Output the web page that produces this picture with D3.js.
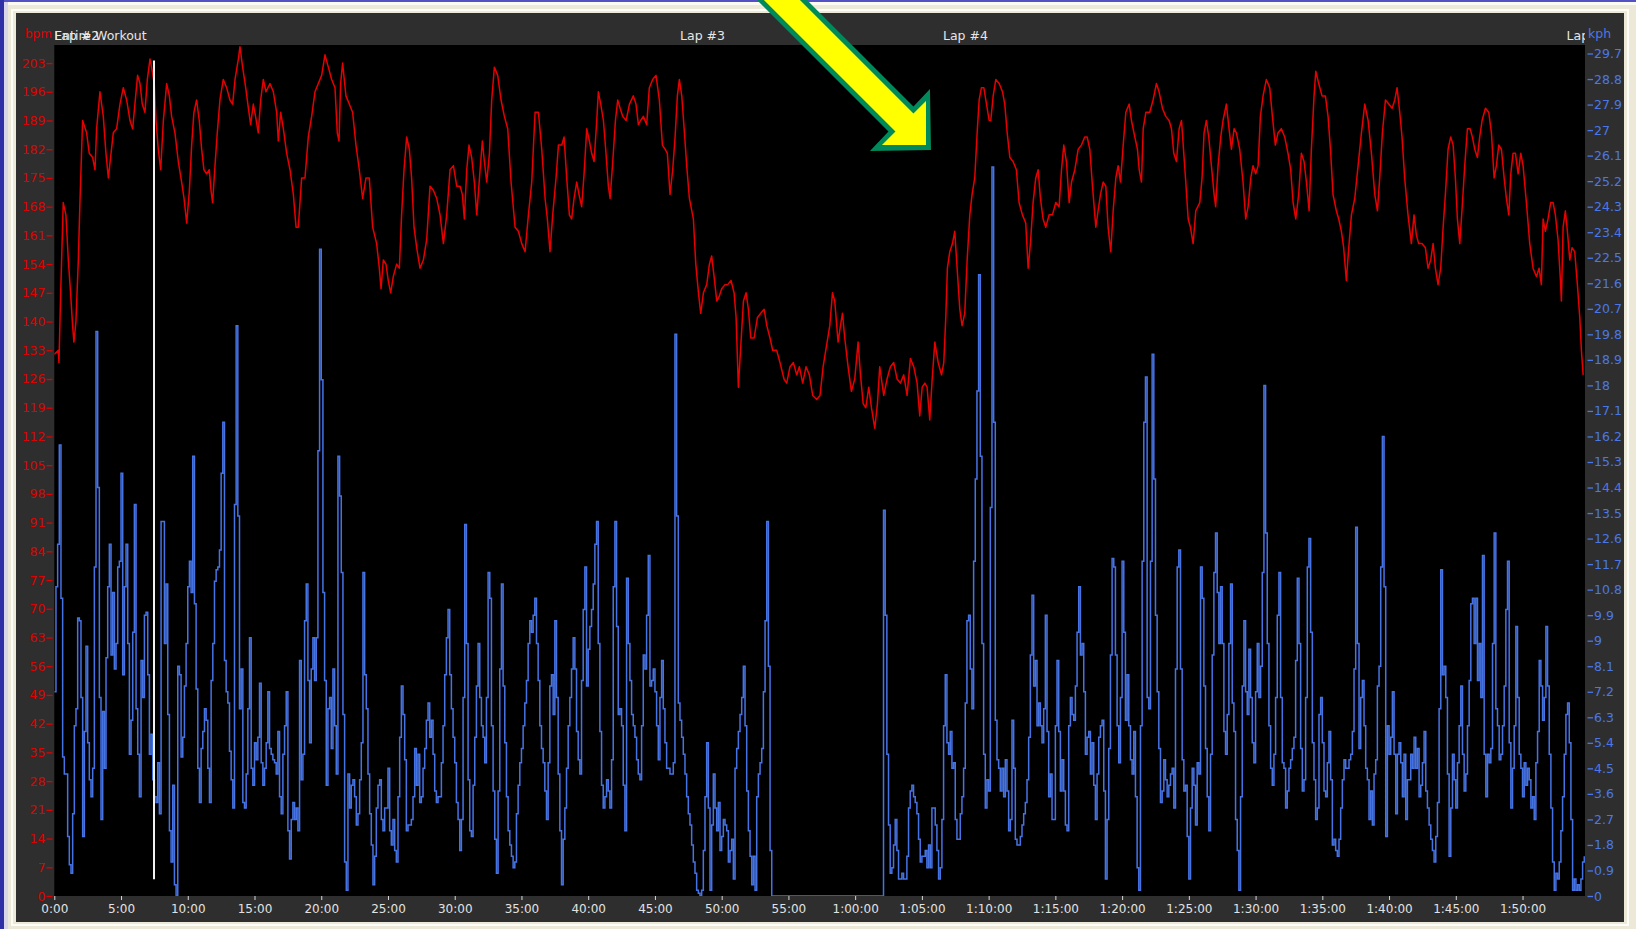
<!DOCTYPE html>
<html><head><meta charset="utf-8">
<script src="https://cdn.jsdelivr.net/npm/d3@7/dist/d3.min.js"></script>
<style>html,body{margin:0;padding:0;background:#ece9d8;overflow:hidden}</style>
</head><body>
<svg id="chart" width="1636" height="929"></svg>
<script>
// ---------- DATA ----------
// Heart rate: [minutes, bpm]
const hrData = [
[0,132],[0.3,133],[0.35,130],[0.47,146],[0.67,169],[0.87,166],[1.05,155],[1.22,147],[1.37,139],[1.47,135],[1.62,140],[1.8,155],[1.92,169],[2.12,189],[2.42,186],[2.62,181],[2.87,180],[3.05,177],[3.17,187],[3.42,196],[3.67,190],[3.87,181],[4.05,175],[4.25,181],[4.42,186],[4.67,187],[4.92,193],[5.17,197],[5.42,194],[5.67,189],[5.87,187],[6.04,193],[6.24,200],[6.42,198],[6.59,193],[6.79,191],[6.97,199],[7.17,204],[7.34,201],[7.49,198],[7.62,189],[7.79,182],[7.97,177],[8.17,189],[8.42,198],[8.62,195],[8.79,190],[9.04,186],[9.29,179],[9.54,174],[9.72,170],[9.92,164],[10.12,172],[10.29,183],[10.46,191],[10.66,194],[10.86,189],[11.04,182],[11.21,177],[11.41,176],[11.61,177],[11.74,172],[11.86,169],[12.04,178],[12.21,186],[12.41,194],[12.66,199],[12.91,197],[13.16,194],[13.36,193],[13.54,199],[13.79,204],[13.91,207],[14.11,202],[14.34,197],[14.54,192],[14.71,188],[14.91,193],[15.08,190],[15.28,186],[15.46,194],[15.66,199],[15.86,196],[16.16,198],[16.41,196],[16.66,191],[16.78,184],[16.96,191],[17.16,187],[17.41,181],[17.66,177],[17.91,171],[18.11,163],[18.28,163],[18.53,175],[18.78,175],[19.03,185],[19.28,190],[19.53,196],[19.78,198],[20.03,200],[20.28,205],[20.53,202],[20.78,199],[21.03,197],[21.2,186],[21.33,184],[21.45,198],[21.6,203],[21.85,195],[22.1,193],[22.35,191],[22.6,183],[22.85,177],[23.1,170],[23.35,175],[23.6,175],[23.85,163],[24.15,159],[24.35,153],[24.48,148],[24.65,155],[24.85,154],[25.02,150],[25.2,147],[25.4,151],[25.65,154],[25.85,153],[26.02,166],[26.2,177],[26.4,185],[26.6,182],[26.77,175],[26.95,163],[27.15,158],[27.4,153],[27.65,155],[27.9,160],[28.15,173],[28.4,172],[28.65,170],[28.9,166],
[29.15,159],[29.4,166],[29.65,177],[29.9,178],[30.15,173],[30.4,173],[30.57,171],[30.72,165],[30.9,177],[31.07,183],[31.27,180],[31.47,174],[31.65,166],[31.9,177],[32.07,184],[32.22,179],[32.4,174],[32.6,181],[32.77,194],[32.97,202],[33.22,200],[33.47,194],[33.72,190],[33.97,187],[34.22,174],[34.52,163],[34.77,162],[35.02,159],[35.27,157],[35.52,166],[35.77,174],[36.02,191],[36.27,191],[36.52,182],[36.77,170],[36.94,165],[37.14,157],[37.34,166],[37.59,175],[37.77,183],[38.02,183],[38.19,185],[38.39,175],[38.59,166],[38.76,165],[38.94,170],[39.14,174],[39.31,171],[39.51,168],[39.69,176],[39.89,187],[40.09,184],[40.26,181],[40.44,179],[40.64,189],[40.76,196],[40.94,193],[41.14,189],[41.31,182],[41.51,173],[41.64,170],[41.84,179],[42.04,189],[42.21,194],[42.39,192],[42.59,190],[42.84,189],[43.09,193],[43.38,195],[43.58,193],[43.76,188],[43.93,189],[44.13,190],[44.38,188],[44.58,197],[44.83,199],[45.08,200],[45.33,194],[45.56,183],[45.76,182],[45.93,181],[46.13,171],[46.33,177],[46.51,185],[46.68,195],[46.83,199],[47.01,195],[47.21,186],[47.38,178],[47.58,170],[47.88,165],[48.06,154],[48.26,147],[48.43,142],[48.63,147],[48.88,149],[49.08,154],[49.25,156],[49.43,151],[49.63,145],[49.8,146],[50,148],[50.25,149],[50.45,149],[50.7,150],[50.93,147],[51.08,141],[51.25,124],[51.43,134],[51.63,145],[51.83,147],[52,143],[52.18,136],[52.43,136],[52.68,141],[52.93,142],[53.18,143],[53.38,139],[53.62,136],[53.82,133],[54.12,133],[54.37,130],[54.67,126],[54.87,125],[55.12,129],[55.37,130],[55.62,127],[55.82,129],[56.07,125],[56.32,129],[56.57,127],[56.82,122],[57.12,121],[57.37,122],
[57.6,129],[57.85,134],[58.1,139],[58.3,147],[58.47,145],[58.72,135],[58.9,139],[59.05,142],[59.22,136],[59.47,129],[59.72,123],[59.97,126],[60.22,135],[60.4,127],[60.6,120],[60.8,119],[61.02,124],[61.22,119],[61.47,114],[61.67,120],[61.84,129],[62.14,122],[62.39,126],[62.64,129],[62.89,130],[63.14,126],[63.39,125],[63.64,127],[63.89,122],[64.14,131],[64.39,129],[64.64,125],[64.84,117],[65.02,124],[65.22,125],[65.39,124],[65.59,116],[65.77,126],[65.97,135],[66.22,130],[66.47,127],[66.64,130],[66.79,141],[66.91,153],[67.09,157],[67.29,159],[67.46,162],[67.64,153],[67.84,143],[68.01,139],[68.21,142],[68.39,155],[68.59,166],[68.76,171],[68.96,175],[69.14,186],[69.29,194],[69.46,197],[69.64,197],[69.84,193],[70.04,189],[70.16,189],[70.34,195],[70.54,199],[70.79,198],[71.04,196],[71.21,193],[71.39,186],[71.59,180],[71.83,179],[72.08,177],[72.28,169],[72.53,166],[72.78,164],[72.96,153],[73.13,159],[73.33,169],[73.53,175],[73.71,177],[73.88,170],[74.08,165],[74.28,163],[74.53,166],[74.78,166],[75.03,169],[75.28,168],[75.46,177],[75.63,183],[75.83,179],[76.03,169],[76.21,174],[76.46,177],[76.71,182],[76.95,183],[77.2,185],[77.38,185],[77.58,182],[77.78,173],[78.03,163],[78.2,167],[78.38,171],[78.58,174],[78.78,173],[78.95,163],[79.15,157],[79.33,167],[79.53,175],[79.7,178],[79.88,174],[80.08,183],[80.28,191],[80.53,193],[80.7,189],[80.95,185],[81.15,182],[81.28,177],[81.45,174],[81.58,187],[81.78,191],[82.07,191],[82.32,194],[82.57,198],[82.77,196],[83.02,192],[83.27,190],[83.52,189],[83.7,187],[83.87,181],[84.07,179],[84.27,187],[84.45,189],[84.62,181],[84.77,174],[84.95,165],[85.12,163],[85.32,159],[85.52,167],[85.82,169],
[85.99,175],[86.14,186],[86.31,189],[86.49,185],[86.69,178],[86.89,171],[87.01,168],[87.19,178],[87.39,185],[87.56,189],[87.81,193],[88.01,187],[88.19,182],[88.39,187],[88.56,186],[88.81,182],[89.06,174],[89.26,165],[89.44,168],[89.64,175],[89.81,178],[90.01,176],[90.19,178],[90.36,190],[90.56,195],[90.81,199],[91.06,197],[91.26,190],[91.48,183],[91.68,186],[91.93,187],[92.18,185],[92.43,181],[92.63,177],[92.81,169],[93.01,165],[93.23,171],[93.43,181],[93.63,179],[93.81,174],[94.01,167],[94.18,182],[94.38,195],[94.51,201],[94.73,198],[94.98,195],[95.23,195],[95.43,190],[95.63,181],[95.8,171],[96.05,167],[96.23,165],[96.43,162],[96.6,158],[96.8,150],[96.98,158],[97.18,166],[97.43,170],[97.68,178],[97.93,186],[98.18,193],[98.43,189],[98.68,181],[98.93,171],[99.13,167],[99.3,175],[99.5,186],[99.73,194],[99.98,193],[100.23,192],[100.43,194],[100.6,197],[100.8,191],[100.97,185],[101.17,175],[101.42,166],[101.67,159],[101.87,166],[102.05,161],[102.22,159],[102.47,159],[102.72,158],[102.92,153],[103.12,155],[103.3,159],[103.47,153],[103.67,149],[103.87,153],[104.05,163],[104.22,171],[104.42,182],[104.62,185],[104.8,183],[104.97,175],[105.12,165],[105.3,159],[105.5,169],[105.67,178],[105.87,187],[106.07,187],[106.24,185],[106.42,182],[106.62,180],[106.79,185],[106.97,189],[107.22,192],[107.47,191],[107.67,186],[107.87,175],[108.04,178],[108.22,183],[108.42,182],[108.62,175],[108.79,170],[108.97,166],[109.12,176],[109.29,181],[109.47,181],[109.67,176],[109.87,181],[110.04,178],[110.29,169],[110.54,159],[110.79,153],[111.04,151],[111.24,153],[111.41,149],[111.54,165],[111.71,162],[111.91,165],[112.11,169],[112.29,169],[112.46,166],[112.66,160],[112.84,150],[112.91,145],[113.04,163],[113.21,167],[113.36,162],[113.54,155],[113.71,158],[113.91,157],[114.11,149],[114.29,141],[114.41,133],[114.54,127]
];

// Speed in kph, one sample every speedStepMin minutes starting at 0:00
const speedStepMin = 0.125;
const speedKph = [
7.2,10.9,12.4,15.9,10.5,4.9,4.3,4.3,2.1,1.1,0.8,2.9,6.0,6.6,9.8,9.7,7.0,2.1,5.8,8.8,
5.4,4.1,3.5,4.5,11.6,19.9,14.4,7.0,2.7,6.5,4.5,8.4,10.9,12.4,8.5,10.7,8.0,8.9,11.6,11.8,
14.9,7.8,10.9,12.4,8.9,5.0,6.2,9.3,13.8,6.6,5.0,3.5,8.3,7.0,9.9,10.0,7.8,5.0,5.7,4.1,
3.5,3.3,4.7,2.9,13.2,13.2,8.9,11.0,6.4,2.3,1.2,3.9,0.4,0.0,8.1,7.8,4.9,5.6,7.4,8.9,
10.9,11.8,10.7,15.5,10.3,7.3,4.5,3.3,5.2,5.8,6.6,6.2,4.5,3.3,7.6,8.9,11.1,11.5,11.6,12.2,
14.9,16.7,8.3,7.2,6.8,5.1,4.1,3.1,13.8,20.1,13.4,6.6,8.0,3.3,3.1,4.3,6.6,9.1,4.5,3.9,
5.4,4.8,5.6,7.5,4.7,3.9,4.5,5.4,7.2,5.2,5.0,4.8,4.7,4.3,5.8,3.5,2.9,5.0,6.0,7.2,
2.3,1.3,2.7,3.3,2.7,3.1,2.3,8.3,4.1,5.0,9.7,11.0,7.6,5.4,8.0,9.1,7.6,9.1,15.7,22.8,
18.2,10.7,7.6,3.9,6.6,7.0,5.2,8.0,6.0,4.3,15.5,14.1,11.4,6.4,1.2,0.2,4.3,3.1,3.9,4.1,
3.5,2.5,2.9,4.1,5.4,11.4,7.8,6.6,4.3,2.9,1.8,0.4,1.4,3.1,3.9,4.1,2.7,2.3,3.1,3.1,
4.5,2.3,1.8,2.7,1.6,1.2,3.5,5.6,7.4,6.4,4.8,2.3,2.5,2.5,2.7,3.5,5.2,3.9,5.0,3.3,
3.5,4.5,5.2,6.2,6.8,5.6,6.2,5.0,3.7,3.3,3.5,
3.5,4.7,6.0,7.8,9.1,10.1,7.8,6.6,5.6,4.7,3.3,2.7,1.6,2.7,7.0,13.1,8.9,4.1,2.3,2.1,
3.9,5.6,7.4,8.9,7.0,6.0,5.6,4.7,7.0,11.4,10.5,6.0,3.7,2.0,0.8,3.7,8.0,11.0,7.4,5.4,
3.5,2.3,1.8,1.4,1.0,1.2,2.9,3.9,4.7,5.2,6.0,6.8,7.6,8.9,9.7,9.3,9.9,10.5,8.9,7.6,
6.0,5.2,4.7,3.7,2.7,4.7,7.4,7.8,6.4,9.7,7.0,4.3,2.3,0.4,2.0,3.1,4.5,6.0,7.0,8.0,
9.1,8.0,5.8,4.8,4.3,7.6,10.1,11.6,7.4,8.7,9.5,10.1,11.0,12.4,13.2,8.9,5.8,3.9,3.1,3.5,
4.1,3.7,3.1,4.8,10.9,13.2,9.5,6.4,6.6,6.0,3.9,2.3,11.2,8.9,7.6,6.4,6.0,5.6,4.8,4.3,
4.1,6.0,8.5,8.0,9.9,12.0,7.4,7.6,8.0,7.2,6.0,4.8,7.0,8.3,6.6,5.4,4.5,4.5,4.3,4.3,
4.7,19.8,13.4,6.8,6.2,5.6,5.0,4.3,3.5,2.9,2.5,1.8,1.2,0.8,0.2,0.1,0.0,0.2,1.6,3.5,
5.4,3.1,0.2,2.5,4.3,3.1,2.3,3.3,1.6,2.1,2.7,2.5,2.3,1.2,1.6,2.0,0.6,4.5,5.2,5.8,
6.4,7.0,8.1,6.0,3.7,2.3,1.4,0.4,1.4,0.2,3.5,4.3,4.7,5.2,7.2,9.7,13.2,8.1,1.6,
0,0,0,0,0,0,0,0,0,0,0,0,0,0,0,0,0,0,0,0,0,0,0,0,0,0,0,0,0,0,0,0,0,0,
0,0,0,0,0,0,0,0,0,0,0,0,0,0,0,0,0,0,0,0,0,0,0,0,0,0,0,0,0,0,0,0,0,
13.6,9.9,5.0,2.5,0.8,1.0,1.8,2.7,1.6,0.6,0.6,0.8,0.6,0.6,1.4,3.1,3.7,3.9,3.5,3.3,
2.9,2.0,1.2,1.4,1.4,1.6,1.0,1.8,1.0,3.1,3.1,2.5,1.6,0.6,1.0,2.7,6.0,7.8,5.4,5.0,
5.8,4.5,4.7,2.7,2.0,2.0,2.9,3.5,4.5,6.8,9.7,9.9,8.0,6.6,11.8,14.7,17.8,21.9,15.5,8.9,
5.0,3.1,4.1,3.7,13.7,25.7,16.7,6.2,4.8,4.5,3.7,4.5,3.5,4.8,3.7,2.3,2.7,6.2,4.5,2.0,
1.8,1.8,2.1,2.5,2.9,3.3,4.1,5.6,8.5,10.6,7.4,8.3,6.0,6.8,6.0,5.4,6.6,9.9,5.8,3.5,
4.3,2.7,2.7,6.0,8.3,5.8,3.7,4.8,3.7,2.5,2.3,6.0,7.0,6.4,6.2,7.4,9.3,10.9,8.5,8.9,
7.2,5.0,5.6,5.8,4.3,5.4,3.9,2.7,4.3,5.6,6.0,6.2,3.7,0.6,2.7,5.2,8.5,11.9,11.6,8.5,
6.0,4.7,7.0,11.8,9.3,6.2,7.8,6.0,4.8,4.3,5.8,3.5,1.0,0.2,6.0,11.8,16.7,18.3,7.0,6.6,
11.8,19.1,14.7,9.9,7.2,5.2,3.3,3.7,4.8,4.1,3.5,3.9,4.3,4.5,3.1,8.0,11.6,12.2,8.0,4.8,
3.7,3.9,2.1,0.6,3.1,4.5,3.9,2.5,4.7,4.3,
11.6,10.5,7.4,5.2,3.5,2.3,5.0,8.5,11.4,12.8,10.7,8.9,10.9,8.9,5.8,5.0,6.4,8.9,11.0,6.8,
5.8,2.7,1.6,0.2,3.5,7.4,9.7,7.2,6.4,8.7,7.0,5.4,4.7,7.2,8.9,7.0,8.1,11.4,18.0,12.8,
8.9,6.0,4.5,3.9,5.0,7.0,9.9,11.4,7.0,4.7,4.5,3.1,3.7,4.5,4.8,5.2,5.6,8.3,11.2,8.9,
5.2,3.7,4.1,7.0,11.6,12.6,9.3,5.4,4.1,2.7,3.1,6.4,7.0,5.4,3.7,3.5,4.7,5.8,4.1,1.8,
2.0,1.6,1.4,2.0,3.1,4.1,4.8,4.5,4.5,4.8,5.0,5.8,8.0,13.0,8.9,5.2,7.0,7.6,6.0,4.5,
4.1,2.7,3.7,2.5,4.3,4.8,7.4,8.1,11.6,16.2,10.9,2.1,6.0,5.0,5.6,7.2,5.0,2.9,5.0,5.4,
4.7,3.5,5.0,2.7,4.1,4.1,5.0,4.5,5.6,4.5,5.2,3.5,3.9,4.7,5.8,3.7,3.1,2.5,2.0,1.6,
1.2,2.1,3.3,6.6,11.5,7.8,8.1,7.0,4.3,1.4,3.1,5.0,4.1,3.1,4.7,6.0,7.4,5.0,3.7,4.3,
6.0,7.6,10.3,10.5,8.9,10.5,7.6,8.9,7.0,12.0,5.0,3.5,5.0,4.7,5.2,8.9,12.8,6.6,6.0,4.8,
5.0,6.0,7.4,10.1,11.8,5.4,3.1,4.5,6.0,9.5,7.0,5.0,4.5,3.5,4.7,3.9,4.5,4.1,3.1,3.5,
2.7,4.7,5.8,8.3,7.4,6.2,7.0,9.5,7.4,5.0,3.1,1.2,0.2,0.8,0.6,1.2,2.3,3.5,5.0,6.4,
6.8,5.4,2.7,0.2,0.6,0.2,0.4,0.2,0.6,1.2,1.4
];

const durationMin = 114.68;       // x-axis extent (minutes)
const hrMax = 207.4;              // left axis extent (bpm)
const speedMax = 30;              // right axis extent (kph)
const hrTicks = [0,7,14,21,28,35,42,49,56,63,70,77,84,91,98,105,112,119,126,133,140,147,154,161,168,175,182,189,196,203];
const speedTicks = [0,0.9,1.8,2.7,3.6,4.5,5.4,6.3,7.2,8.1,9,9.9,10.8,11.7,12.6,13.5,14.4,15.3,16.2,17.1,18,18.9,19.8,20.7,21.6,22.5,23.4,24.3,25.2,26.1,27,27.9,28.8,29.7];
const speedTickLabels = ["0","0.9","1.8","2.7","3.6","4.5","5.4","6.3","7.2","8.1","9","9.9","10.8","11.7","12.6","13.5","14.4","15.3","16.2","17.1","18","18.9","19.8","20.7","21.6","22.5","23.4","24.3","25.2","26.1","27","27.9","28.8","29.7"];
const timeTicks = [0,5,10,15,20,25,30,35,40,45,50,55,60,65,70,75,80,85,90,95,100,105,110];
const timeTickLabels = ["0:00","5:00","10:00","15:00","20:00","25:00","30:00","35:00","40:00","45:00","50:00","55:00","1:00:00","1:05:00","1:10:00","1:15:00","1:20:00","1:25:00","1:30:00","1:35:00","1:40:00","1:45:00","1:50:00"];
const lapNames = ["Lap #2","Entire Workout","Lap #3","Lap #4","Lap #5"];
const lapStarts = [0,0,46.88,66.58,113.3];
const markerMin = 7.47;           // white marker line
const markerSpanBpm = [4.1, 203.6];
const arrowTip = [65.68, 181.8];  // [minutes, bpm] the annotation arrow points at

// ---------- LAYOUT ----------
const W = 1636, H = 929;
const P = {l:54.3, r:1585, t:45, b:896};
const FONT = "'DejaVu Sans', Verdana, sans-serif";
const svg = d3.select('#chart');

// slide background + window frame
svg.append('rect').attr('width',W).attr('height',H).attr('fill','#ece9d8');
svg.append('rect').attr('x',0).attr('y',0).attr('width',W).attr('height',2).attr('fill','#5252c4');
svg.append('rect').attr('x',0).attr('y',0).attr('width',4).attr('height',H).attr('fill','#2f2fa6');
svg.append('rect').attr('x',4).attr('y',2).attr('width',W-4).attr('height',3).attr('fill','#fbfaf3');
svg.append('rect').attr('x',4).attr('y',2).attr('width',4).attr('height',H).attr('fill','#d8d6e8');
svg.append('rect').attr('x',12).attr('y',10).attr('width',1616).attr('height',915).attr('fill','none').attr('stroke','#fdfdf8').attr('stroke-width',2);
svg.append('rect').attr('x',16).attr('y',13).attr('width',1608).attr('height',909).attr('fill','#2e2e2e');
svg.append('rect').attr('x',P.l).attr('y',P.t).attr('width',P.r-P.l).attr('height',P.b-P.t).attr('fill','#000');

// scales
const x = d3.scaleLinear().domain([0,durationMin]).range([P.l,P.r]);
const yHr = d3.scaleLinear().domain([0,hrMax]).range([P.b,P.t]);
const ySp = d3.scaleLinear().domain([0,speedMax]).range([P.b,P.t]);

// clip
const defs = svg.append('defs');
defs.append('clipPath').attr('id','plotclip').append('rect')
  .attr('x',P.l).attr('y',P.t-2).attr('width',P.r-P.l).attr('height',P.b-P.t+2);
defs.append('clipPath').attr('id','lapclip').append('rect')
  .attr('x',P.l).attr('y',0).attr('width',P.r-P.l).attr('height',P.t);

// axes
const axL = svg.append('g').attr('transform','translate(52.5,0)')
  .call(d3.axisLeft(yHr).tickValues(hrTicks).tickSize(6).tickPadding(1).tickFormat(d3.format('d')));
axL.select('.domain').remove();
axL.selectAll('line').attr('stroke','#e00000').attr('stroke-width',1.3);
axL.selectAll('text').attr('fill','#e00000').style('font-family',FONT).style('font-size','12.5px');

const axR = svg.append('g').attr('transform','translate(1587.5,0)')
  .call(d3.axisRight(ySp).tickValues(speedTicks).tickSize(5.5).tickPadding(1).tickFormat((d,i)=>speedTickLabels[i]));
axR.select('.domain').remove();
axR.selectAll('line').attr('stroke','#4b78e6').attr('stroke-width',1.3);
axR.selectAll('text').attr('fill','#4b78e6').style('font-family',FONT).style('font-size','12.5px');

const axB = svg.append('g').attr('transform',`translate(0,${P.b})`)
  .call(d3.axisBottom(x).tickValues(timeTicks).tickSize(4).tickPadding(4).tickFormat((d,i)=>timeTickLabels[i]));
axB.select('.domain').remove();
axB.selectAll('line').attr('stroke','#d8d8d8');
axB.selectAll('text').attr('fill','#e2e2e2').style('font-family',FONT).style('font-size','12px');

// unit labels
svg.append('text').attr('x',25).attr('y',38).text('bpm')
  .attr('fill','#e00000').style('font-family',FONT).style('font-size','12px');
svg.append('text').attr('x',1588).attr('y',38).text('kph')
  .attr('fill','#4b78e6').style('font-family',FONT).style('font-size','12.5px');

// lap labels
svg.append('g').attr('clip-path','url(#lapclip)').selectAll('text')
  .data(lapNames).join('text')
  .attr('x',(d,i)=>x(lapStarts[i])).attr('y',40).text(d=>d)
  .attr('fill','#e6e6e6').style('font-family',FONT).style('font-size','12.5px');

// series
const g = svg.append('g').attr('clip-path','url(#plotclip)');
const speedLine = d3.line().x((d,i)=>x(i*speedStepMin)).y(d=>ySp(d)).curve(d3.curveStepAfter);
g.append('path').datum(speedKph).attr('d',speedLine)
  .attr('fill','none').attr('stroke','#4673e4').attr('stroke-width',1.5).attr('stroke-linejoin','miter');
const hrLine = d3.line().x(d=>x(d[0])).y(d=>yHr(d[1]));
g.append('path').datum(hrData).attr('d',hrLine)
  .attr('fill','none').attr('stroke','#e60000').attr('stroke-width',1.5).attr('stroke-linejoin','round');

// marker
g.append('line').attr('x1',x(markerMin)).attr('x2',x(markerMin))
  .attr('y1',yHr(markerSpanBpm[1])).attr('y2',yHr(markerSpanBpm[0]))
  .attr('stroke','#f2f2f2').attr('stroke-width',2);

// annotation arrow (pointing at arrowTip)
const tx = x(arrowTip[0]), ty = yHr(arrowTip[1]);
const outer = [[-134,-160],[-17.5,-43.5],[-1,-61],[0,0],[-61,1],[-42.5,-18.5],[-184,-160]];
const inner = [[-141,-160],[-17.5,-36.5],[-5,-49],[-5,-5],[-49,-5],[-35.5,-18.5],[-177,-160]];
svg.append('polygon').attr('points',outer.map(p=>[tx+p[0],ty+p[1]].join(',')).join(' ')).attr('fill','#008a5c');
svg.append('polygon').attr('points',inner.map(p=>[tx+p[0],ty+p[1]].join(',')).join(' ')).attr('fill','#ffff00');
</script>
</body></html>
